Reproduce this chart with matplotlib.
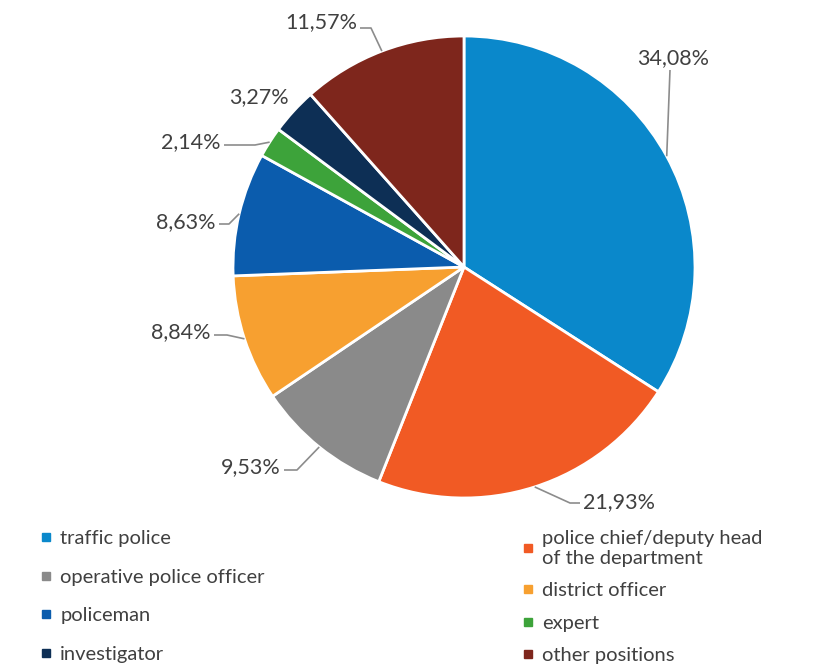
import numpy as np
import matplotlib
matplotlib.use("Agg")
import matplotlib.pyplot as plt
from matplotlib.lines import Line2D

plt.rcParams['font.family'] = ['Lato', 'DejaVu Sans']

categories = ["traffic police", "police chief/deputy head\nof the department",
              "operative police officer", "district officer", "policeman",
              "expert", "investigator", "other positions"]
values = [34.08, 21.93, 9.53, 8.84, 8.63, 2.14, 3.27, 11.57]
value_labels = ["34,08%", "21,93%", "9,53%", "8,84%", "8,63%", "2,14%", "3,27%", "11,57%"]
colors = ["#0A88CB", "#F15A24", "#8A8A8A", "#F7A030", "#0B5CAD",
          "#3DA33A", "#0D2F55", "#7E261C"]

W, H = 820, 665
fig = plt.figure(figsize=(W / 100, H / 100), dpi=100)
ax = fig.add_axes([0, 0, 1, 1])

def Y(py):
    return H - py

cx, cy, R = 464, Y(267), 231
wedges, _ = ax.pie(values, colors=colors, startangle=90, counterclock=False,
                   center=(cx, cy), radius=R,
                   wedgeprops=dict(edgecolor='white', linewidth=2))
ax.set_xlim(0, W)
ax.set_ylim(0, H)
ax.set_aspect('equal')
ax.axis('off')

txt_color = "#404040"
line_color = "#8C8C8C"
fs = 15.5
lfs = 14.5

# label layout: (text x px, text y px, ha, leader-line bend points in px)
layout = [
    (673, 58, 'center', [(670, 70)]),
    (583, 502, 'left', [(580, 503), (570, 503)]),
    (281, 467, 'right', [(284, 470), (297, 470)]),
    (211, 332, 'right', [(214, 335), (227, 335)]),
    (216, 222, 'right', [(219, 224), (229, 224)]),
    (221, 142, 'right', [(224, 145), (255, 145)]),
    (289, 97, 'right', []),
    (357, 22, 'right', [(360, 28), (371, 28)]),
]

for w, lab, (tx, ty, ha, pts) in zip(wedges, value_labels, layout):
    mid = np.deg2rad((w.theta1 + w.theta2) / 2)
    ex = cx + R * np.cos(mid)
    ey = cy + R * np.sin(mid)
    ax.text(tx, Y(ty), lab, ha=ha, va='center', fontsize=fs, color=txt_color)
    if pts:
        xs = [p[0] for p in pts] + [ex]
        ys = [Y(p[1]) for p in pts] + [ey]
        ax.plot(xs, ys, color=line_color, lw=1.2, solid_capstyle='butt')

def handle(c):
    return Line2D([], [], marker='s', linestyle='None', markersize=5.5,
                  markerfacecolor=c, markeredgecolor=c)

left_idx = [0, 2, 4, 6]
right_idx = [1, 3, 5, 7]

leg1 = ax.legend([handle(colors[i]) for i in left_idx],
                 [categories[i] for i in left_idx],
                 loc='upper left', bbox_to_anchor=(40 / W, 1 - 530 / H),
                 bbox_transform=fig.transFigure, frameon=False,
                 fontsize=lfs, labelcolor=txt_color, labelspacing=1.07,
                 handlelength=0.6, handletextpad=0.4, borderpad=0, borderaxespad=0)
ax.add_artist(leg1)
leg2 = ax.legend([handle(colors[i]) for i in right_idx],
                 [categories[i] for i in right_idx],
                 loc='upper left', bbox_to_anchor=(522 / W, 1 - 530 / H),
                 bbox_transform=fig.transFigure, frameon=False,
                 fontsize=lfs, labelcolor=txt_color, labelspacing=0.76,
                 handlelength=0.6, handletextpad=0.4, borderpad=0, borderaxespad=0)

fig.savefig("out.png", dpi=100)
